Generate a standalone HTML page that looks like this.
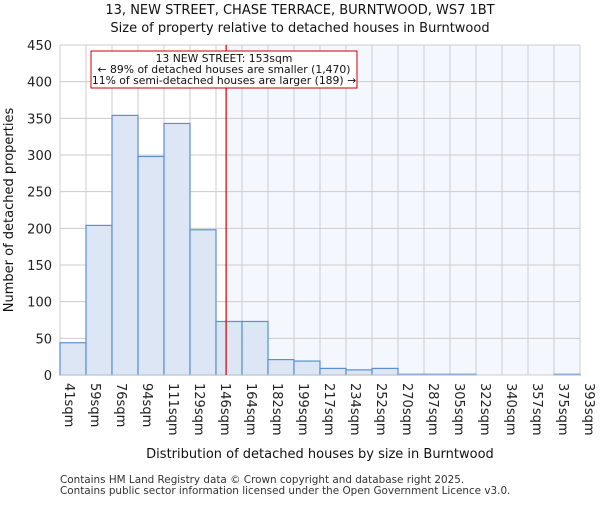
<!DOCTYPE html>
<html><head><meta charset="utf-8"><style>body{margin:0;background:#fff}text{font-family:"DejaVu Sans","Liberation Sans",sans-serif}</style></head>
<body>
<svg id="c" width="600" height="500" xmlns="http://www.w3.org/2000/svg"></svg>
<script>
const binLabels=["41sqm","59sqm","76sqm","94sqm","111sqm","129sqm","146sqm","164sqm","182sqm","199sqm","217sqm","234sqm","252sqm","270sqm","287sqm","305sqm","322sqm","340sqm","357sqm","375sqm","393sqm"];
const binEdges=[41,59,76,94,111,129,146,164,182,199,217,234,252,270,287,305,322,340,357,375,393];
const counts=[44,204,354,298,343,198,73,73,21,19,9,7,9,1,1,1,0,0,0,1];
const yTicks=[0,50,100,150,200,250,300,350,400,450];
const marker=153;
const L=60,R=580,T=45,B=375,yMax=450;
const svg=document.getElementById('c');const NS="http://www.w3.org/2000/svg";
function el(t,a,txt){const e=document.createElementNS(NS,t);for(const k in a)e.setAttribute(k,a[k]);if(txt!==undefined)e.textContent=txt;svg.appendChild(e);return e;}
const n=counts.length,bw=(R-L)/n;
const xi=i=>L+i*bw;
const y=v=>B-(v/yMax)*(B-T);
function xv(v){for(let i=0;i<n;i++){if(v>=binEdges[i]&&v<=binEdges[i+1])return xi(i)+(v-binEdges[i])/(binEdges[i+1]-binEdges[i])*bw;}return R;}
const mx=xv(marker);
let e=el('rect',{x:mx,y:T,width:R-mx,height:B-T,fill:'#f4f7fe'});

for(const t of yTicks){e=el('line',{x1:L,x2:R,y1:y(t),y2:y(t),stroke:'#ccc','stroke-width':1});

e=el('text',{x:L-8,y:y(t)+5,'text-anchor':'end','font-size':13,fill:'#222'},t);
}
for(let i=0;i<=n;i++){e=el('line',{x1:xi(i),x2:xi(i),y1:T,y2:B,stroke:'#ccc','stroke-width':1});

e=el('text',{transform:`translate(${xi(i)+5},${B+8}) rotate(90)`,'font-size':13,fill:'#222'},binLabels[i]);
}
for(let i=0;i<n;i++){if(counts[i]<=0)continue;
e=el('rect',{x:xi(i),y:y(counts[i]),width:bw,height:B-y(counts[i]),fill:'#dce6f5',stroke:'#5b8fd6','stroke-width':1.2});
}
e=el('line',{x1:L,x2:R,y1:B,y2:B,stroke:'#ccc'});
e=el('line',{x1:mx,x2:mx,y1:T,y2:B,stroke:'#cc0000','stroke-width':1.2});

e=el('rect',{x:91,y:51,width:266,height:37,fill:'#fff',stroke:'#cc0000'});

const ann=["13 NEW STREET: 153sqm","← 89% of detached houses are smaller (1,470)","11% of semi-detached houses are larger (189) →"];
ann.forEach((s,k)=>{e=el('text',{x:224,y:62+k*11,'text-anchor':'middle','font-size':10.8,fill:'#111'},s);
});
e=el('text',{x:300,y:14,'text-anchor':'middle','font-size':13,fill:'#111'},"13, NEW STREET, CHASE TERRACE, BURNTWOOD, WS7 1BT");

e=el('text',{x:300,y:32,'text-anchor':'middle','font-size':13,fill:'#111'},"Size of property relative to detached houses in Burntwood");

e=el('text',{x:320,y:458,'text-anchor':'middle','font-size':13,fill:'#111'},"Distribution of detached houses by size in Burntwood");

e=el('text',{transform:'translate(13,210) rotate(-90)','text-anchor':'middle','font-size':13,fill:'#111'},"Number of detached properties");

e=el('text',{x:60,y:483,'font-size':10.4,fill:'#333'},"Contains HM Land Registry data © Crown copyright and database right 2025.");

e=el('text',{x:60,y:494,'font-size':10.4,fill:'#333'},"Contains public sector information licensed under the Open Government Licence v3.0.");

</script>
</body></html>
